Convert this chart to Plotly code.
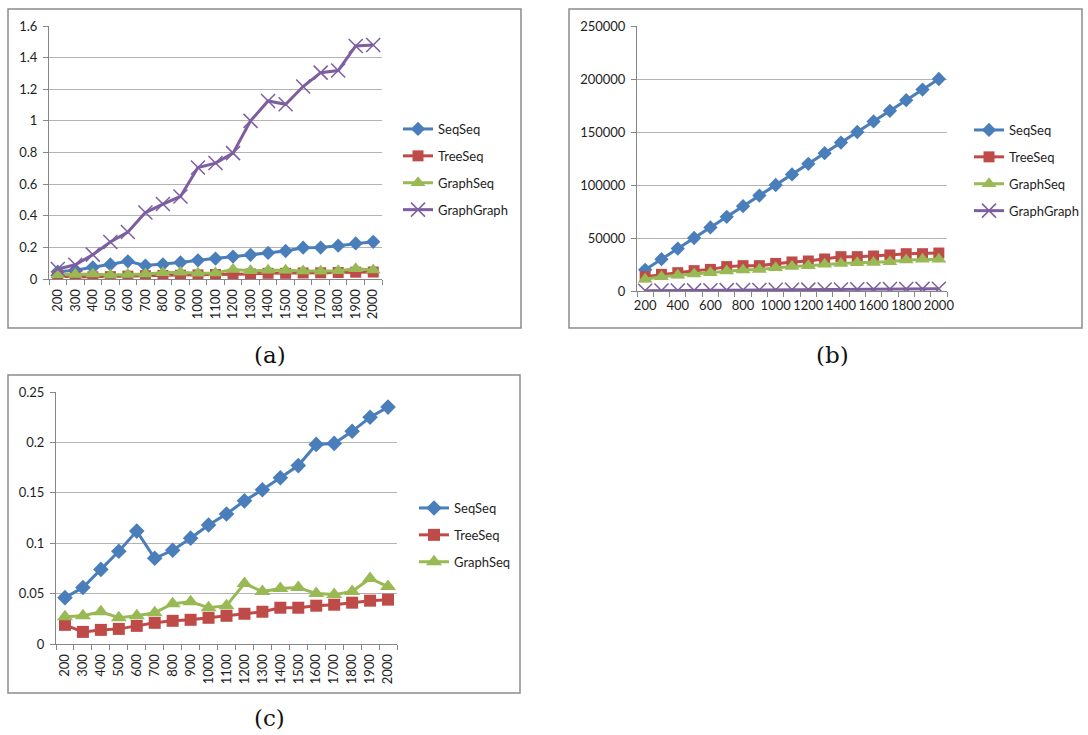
import plotly.graph_objects as go

W, H = 1088, 735

# problem sizes (category axis)
sizes = [200, 300, 400, 500, 600, 700, 800, 900, 1000, 1100,
         1200, 1300, 1400, 1500, 1600, 1700, 1800, 1900, 2000]

# running time
time_seqseq = [0.046, 0.056, 0.074, 0.092, 0.112, 0.085, 0.093, 0.105, 0.118, 0.129,
               0.142, 0.153, 0.165, 0.177, 0.198, 0.199, 0.211, 0.225, 0.235]
time_treeseq = [0.019, 0.012, 0.014, 0.015, 0.018, 0.021, 0.023, 0.024, 0.026, 0.028,
                0.030, 0.032, 0.036, 0.036, 0.038, 0.039, 0.041, 0.043, 0.044]
time_graphseq = [0.027, 0.028, 0.032, 0.026, 0.028, 0.031, 0.040, 0.042, 0.036, 0.038,
                 0.060, 0.052, 0.055, 0.056, 0.050, 0.049, 0.052, 0.065, 0.057]
time_graphgraph = [0.063, 0.090, 0.154, 0.234, 0.297, 0.420, 0.474, 0.522, 0.705, 0.733,
                   0.796, 1.000, 1.126, 1.105, 1.217, 1.305, 1.318, 1.474, 1.480]

# memory / size measure
mem_seqseq = [20000, 30000, 40000, 50000, 60000, 70000, 80000, 90000, 100000, 110000,
              120000, 130000, 140000, 150000, 160000, 170000, 180000, 190000, 200000]
mem_treeseq = [13500, 15700, 17300, 19200, 20400, 23000, 23900, 23900, 26000, 27400,
               28300, 30200, 32400, 32400, 33000, 34000, 35200, 35200, 35800]
mem_graphseq = [11000, 13500, 14800, 16000, 17300, 18900, 19800, 20400, 22000, 23000,
                23900, 25200, 26000, 26700, 27000, 27700, 29200, 29900, 29900]
mem_graphgraph = [300, 400, 500, 600, 700, 800, 900, 1000, 1100, 1200,
                  1300, 1400, 1500, 1600, 1700, 1800, 1900, 2000, 2100]

names = ["SeqSeq", "TreeSeq", "GraphSeq", "GraphGraph"]
colors = ["#4A7EBB", "#BE4B48", "#98B954", "#7D5FA0"]
symbols = ["diamond", "square", "triangle-up", "x-thin"]
size_bump = {"diamond": 0, "square": 0, "triangle-up": 2, "x-thin": 3}

FONT = "Lato"
TXT = "#1E1E1E"
AXC = "#868686"
GRID = "#B3B3B3"


def fx(px):
    return px / W


def fy(py):
    return 1 - py / H


fig = go.Figure()

panels = [
    # key, series, x-domain px, y-domain px (top, bottom), y range, dtick,
    # legend x px, legend top px, label step, label angle, marker size
    ("a", [time_seqseq, time_treeseq, time_graphseq, time_graphgraph], (49, 382), (26, 279),
     (0, 1.6), 0.2, 398, 114, 1, -90, 11),
    ("b", [mem_seqseq, mem_treeseq, mem_graphseq, mem_graphgraph], (637, 947), (26, 291),
     (0, 250000), 50000, 969, 115, 2, 0, 11),
    ("c", [time_seqseq, time_treeseq, time_graphseq], (56, 397), (392, 644),
     (0, 0.25), 0.05, 414, 493, 1, -90, 12),
]

for i, (key, series, xd, yd, yr, dt, lx, ly, step, ang, msize) in enumerate(panels):
    n = i + 1
    xa = "x" if n == 1 else f"x{n}"
    ya = "y" if n == 1 else f"y{n}"
    leg = "legend" if n == 1 else f"legend{n}"
    for j, vals in enumerate(series):
        is_x = symbols[j] == "x-thin"
        fig.add_trace(go.Scatter(
            x=sizes, y=vals, name=names[j], mode="lines+markers",
            xaxis=xa, yaxis=ya, legend=leg, legendgroup=f"{key}{j}",
            line=dict(color=colors[j], width=3),
            marker=dict(symbol=symbols[j], size=msize + size_bump[symbols[j]],
                        color=colors[j],
                        line=dict(color=colors[j], width=1.5 if is_x else 0)),
        ))
    xkey = "xaxis" if n == 1 else f"xaxis{n}"
    ykey = "yaxis" if n == 1 else f"yaxis{n}"
    fig.update_layout(**{
        xkey: dict(
            domain=[fx(xd[0]), fx(xd[1])], anchor=ya, range=[150, 2050],
            tickmode="array", tickvals=sizes[::step], ticktext=[str(s) for s in sizes[::step]],
            ticks="", tickangle=ang, showgrid=False, zeroline=False,
            showline=True, linecolor=AXC, linewidth=1, automargin=False,
            tickfont=dict(family=FONT, size=13, color=TXT),
            ticklabelstandoff=4 if ang else 2,
            minor=dict(tickmode="linear", tick0=150, dtick=100, ticks="outside",
                       ticklen=5, tickcolor=AXC, tickwidth=1, showgrid=False),
            fixedrange=True,
        ),
        ykey: dict(
            domain=[fy(yd[1]), fy(yd[0])], anchor=xa, range=list(yr),
            tickmode="linear", tick0=0, dtick=dt,
            tickformat="d" if key == "b" else "",
            ticks="outside", ticklen=5, tickcolor=AXC,
            showgrid=True, gridcolor=GRID, gridwidth=1, zeroline=False,
            showline=True, linecolor=AXC, linewidth=1, automargin=False,
            tickfont=dict(family=FONT, size=13, color=TXT),
            ticklabelstandoff=3,
            fixedrange=True,
        ),
        leg: dict(
            x=fx(lx), y=fy(ly), xanchor="left", yanchor="top",
            bgcolor="rgba(0,0,0,0)", borderwidth=0,
            font=dict(family=FONT, size=13, color=TXT),
            tracegroupgap=7, itemwidth=30,
        ),
    })

# chart frames
frames = [(8, 9, 521, 328), (569, 9, 1082, 328), (8, 375, 520, 693)]
for x0, y0, x1, y1 in frames:
    fig.add_shape(type="rect", xref="paper", yref="paper",
                  x0=fx(x0), x1=fx(x1), y0=fy(y1), y1=fy(y0),
                  line=dict(color="#8C8C8C", width=1.5), fillcolor="rgba(0,0,0,0)", layer="below")

# sub-figure captions
captions = [("(a)", 270, 355), ("(b)", 832, 355), ("(c)", 269, 718)]
for text, cx, cy in captions:
    fig.add_annotation(text=text, xref="paper", yref="paper", x=fx(cx), y=fy(cy),
                       xanchor="center", yanchor="middle", showarrow=False,
                       font=dict(family="DejaVu Serif", size=23, color="#111111"))

fig.update_layout(
    width=W, height=H, margin=dict(l=0, r=0, t=0, b=0, autoexpand=False),
    paper_bgcolor="white", plot_bgcolor="white", showlegend=True,
)

fig.write_html("out.html")
